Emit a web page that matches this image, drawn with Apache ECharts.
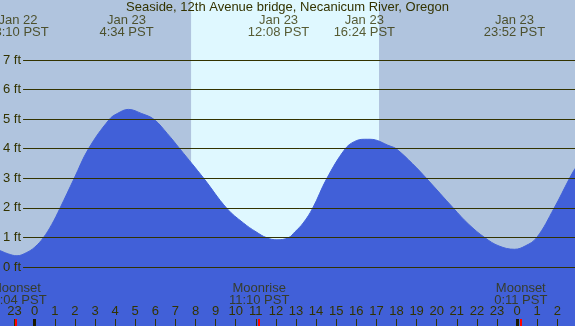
<!DOCTYPE html>
<html>
<head>
<meta charset="utf-8">
<script src="https://cdn.jsdelivr.net/npm/echarts@6/dist/echarts.min.js"></script>
<style>
html, body { margin: 0; padding: 0; background: #B0C4DE; }
#main { width: 575px; height: 326px; }
</style>
</head>
<body>
<div id="main"></div>
<script>
// tide height (ft), hours from midnight Jan 23 PST
var tideHours = [-1.73, -1.3, -0.88, -0.4, 0, 0.43, 0.85, 1.26, 1.96, 2.67, 3.71, 4.11, 4.66, 5.32, 5.94, 6.6, 7.23,
    8.42, 9.55, 10.38, 11.01, 11.54, 12.05, 12.62, 12.95, 13.36, 13.83, 14.53, 15.44, 15.9, 16.4, 16.68, 17.68, 18.0,
    18.8, 19.5, 20.83, 21.6, 22.4, 23.1, 23.87, 24.4, 24.97, 25.84, 26.6, 26.88];
var tideFeet = [0.57, 0.45, 0.39, 0.5, 0.68, 1.0, 1.45, 2.0, 3.0, 4.0, 5.0, 5.2, 5.34, 5.2, 5.0, 4.52, 4.0,
    3.0, 2.0, 1.5, 1.2, 1.0, 0.93, 1.0, 1.2, 1.5, 2.0, 3.0, 4.0, 4.25, 4.33, 4.33, 4.1, 4.0,
    3.5, 3.0, 2.0, 1.45, 1.0, 0.72, 0.61, 0.72, 1.0, 2.0, 3.0, 3.34];

var extremeHours = [-0.833, 4.567, 12.133, 16.4, 23.867];
var extremeDays = ['Jan 22', 'Jan 23', 'Jan 23', 'Jan 23', 'Jan 23'];
var extremeTimes = ['23:10 PST', '4:34 PST', '12:08 PST', '16:24 PST', '23:52 PST'];

var moonHours = [-0.933, 11.167, 24.183];
var moonEvents = ['Moonset', 'Moonrise', 'Moonset'];
var moonTimes = ['23:04 PST', '11:10 PST', '0:11 PST'];

var daylight = [7.78, 17.13];
var midnights = [0, 24];
var hourTicks = [];
for (var h = -1; h <= 26; h++) hourTicks.push(h);

var NIGHT = '#B0C4DE', DAY = '#DFF8FF', WATER = '#4160D8', INK = '#333300';
var FONT = 'Liberation Sans, Arial, sans-serif';
var X_MIN = -1.726, X_MAX = 26.88;
var Y_MIN = -1.985, Y_MAX = 9.04;
var PX_PER_FT = 326 / (Y_MAX - Y_MIN);
function ftFromTop(px) { return Y_MAX - px / PX_PER_FT; }

var tideData = tideHours.map(function (t, i) { return [t, tideFeet[i]]; });
var extremeData = extremeHours.map(function (t, i) {
    return { name: extremeDays[i] + '\n' + extremeTimes[i], value: [t, ftFromTop(26.5)] };
});
var moonData = moonHours.map(function (t, i) {
    return { name: moonEvents[i] + '\n' + moonTimes[i], value: [t, ftFromTop(294)] };
});

// hour ticks along the bottom edge, thick at midnight, red at moon events
var tickTop = ftFromTop(319);
function tick(t, color, width) {
    return [{ coord: [t, Y_MIN], lineStyle: { color: color, width: width, type: 'solid' } }, { coord: [t, tickTop] }];
}
var tickLines = hourTicks.map(function (t) { return tick(t, INK, 1); })
    .concat(midnights.map(function (t) { return tick(t, '#1a1a00', 3); }))
    .concat(moonHours.map(function (t) { return tick(t, '#ff0000', 2); }));

var labelStyle = {
    show: true, position: 'inside', color: INK, fontSize: 13, lineHeight: 12, fontFamily: FONT,
    formatter: function (p) { return p.name; }
};

var myChart = echarts.init(document.getElementById('main'));
myChart.setOption({
    animation: false,
    backgroundColor: NIGHT,
    textStyle: { fontFamily: FONT },
    title: {
        text: 'Seaside, 12th Avenue bridge, Necanicum River, Oregon',
        left: 'center', top: 1, padding: 0,
        textStyle: { fontSize: 13, fontWeight: 'normal', color: INK, fontFamily: FONT }
    },
    grid: [
        { left: 0, right: 0, top: 0, bottom: 0, show: true, backgroundColor: NIGHT, borderWidth: 0 },
        { left: 22, right: 0, top: 60, bottom: 59 }
    ],
    xAxis: [{
        type: 'value', gridIndex: 0, min: X_MIN, max: X_MAX, z: 10,
        splitLine: { show: false }, axisLine: { show: false }, axisTick: { show: false },
        axisLabel: {
            inside: true, margin: 8, customValues: hourTicks, color: INK, fontSize: 13, fontFamily: FONT,
            formatter: function (v) { return String(((v % 24) + 24) % 24); }
        }
    }, {
        type: 'value', gridIndex: 1, min: 0, max: 1, show: false
    }],
    yAxis: [{
        type: 'value', gridIndex: 0, min: Y_MIN, max: Y_MAX, show: false
    }, {
        type: 'value', gridIndex: 1, min: 0, max: 7, interval: 1, z: 10,
        axisLine: { show: false }, axisTick: { show: false },
        axisLabel: { formatter: '{value} ft', margin: 2, color: INK, fontSize: 13, fontFamily: FONT },
        splitLine: { show: true, lineStyle: { color: INK, width: 1 } }
    }],
    series: [{
        // daylight band
        type: 'line', xAxisIndex: 0, yAxisIndex: 0, z: 1, silent: true,
        data: [[daylight[0], Y_MAX], [daylight[1], Y_MAX]],
        symbol: 'none', lineStyle: { width: 0 },
        areaStyle: { color: DAY, opacity: 1, origin: 'start' }
    }, {
        name: 'tide', type: 'line', xAxisIndex: 0, yAxisIndex: 0, z: 2, silent: true,
        data: tideData, smooth: 0.4, symbol: 'none',
        lineStyle: { width: 1, color: WATER },
        areaStyle: { color: WATER, opacity: 1, origin: 'start' }
    }, {
        type: 'scatter', xAxisIndex: 0, yAxisIndex: 0, z: 5, silent: true,
        symbolSize: 0, data: extremeData, label: labelStyle
    }, {
        type: 'scatter', xAxisIndex: 0, yAxisIndex: 0, z: 5, silent: true,
        symbolSize: 0, data: moonData, label: labelStyle,
        markLine: { silent: true, symbol: ['none', 'none'], label: { show: false }, data: tickLines }
    }]
});
</script>
</body>
</html>
